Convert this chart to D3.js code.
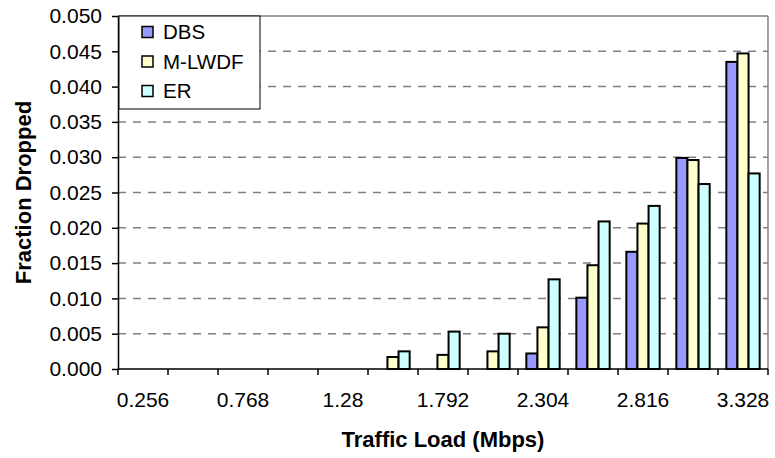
<!DOCTYPE html>
<html>
<head>
<meta charset="utf-8">
<script src="https://cdn.jsdelivr.net/npm/d3@7"></script>
<style>
  body { margin: 0; background: #fff; }
  text { font-family: Arial, "Liberation Sans", sans-serif; }
</style>
</head>
<body>
<div id="chart"></div>
<script>
// traffic load categories (Mbps)
var loads = ["0.256", "0.512", "0.768", "1.024", "1.28", "1.536", "1.792",
             "2.048", "2.304", "2.56", "2.816", "3.072", "3.328"];
var shownLabels = ["0.256", "0.768", "1.28", "1.792", "2.304", "2.816", "3.328"];
var seriesNames = ["DBS", "M-LWDF", "ER"];
var dbs   = [0, 0, 0, 0, 0, 0,      0,     0,      0.0022, 0.0101, 0.0166, 0.0299, 0.0435];
var mlwdf = [0, 0, 0, 0, 0, 0.0017, 0.002, 0.0025, 0.0059, 0.0147, 0.0206, 0.0296, 0.0447];
var er    = [0, 0, 0, 0, 0, 0.0025, 0.0053, 0.005, 0.0127, 0.0209, 0.0231, 0.0262, 0.0277];
var yTicks = [0, 0.005, 0.01, 0.015, 0.02, 0.025, 0.03, 0.035, 0.04, 0.045, 0.05];

var width = 775, height = 458;
var margin = {top: 16, right: 7, bottom: 89, left: 118};
var plotW = width - margin.left - margin.right,
    plotH = height - margin.top - margin.bottom;

var colors = ["#9999ff", "#ffffcc", "#ccffff"];
var allSeries = [dbs, mlwdf, er];

var svg = d3.select("#chart")
    .append("svg")
    .attr("width", width)
    .attr("height", height);

var g = svg.append("g")
    .attr("transform", "translate(" + margin.left + "," + margin.top + ")");

var x = d3.scaleBand()
    .domain(loads)
    .range([0, plotW])
    .paddingInner(0)
    .paddingOuter(0);

// excel style gap: 1.5 bar widths between groups
var x1 = d3.scaleBand()
    .domain(seriesNames)
    .range([0, x.bandwidth()])
    .paddingOuter(0.75)
    .paddingInner(0);

var y = d3.scaleLinear()
    .domain([0, 0.05])
    .range([plotH, 0]);

// gridlines
g.selectAll(".grid")
    .data(yTicks.slice(1, -1))
    .enter().append("line")
    .attr("class", "grid")
    .attr("x1", 0)
    .attr("x2", plotW)
    .attr("y1", function (d) { return y(d); })
    .attr("y2", function (d) { return y(d); })
    .style("stroke", "#808080")
    .style("stroke-width", 1.5)
    .style("stroke-dasharray", "8,7");

// frame top/right
g.append("line").attr("x1", 0).attr("x2", plotW).attr("y1", 0).attr("y2", 0)
    .style("stroke", "#808080").style("stroke-width", 1.5);
g.append("line").attr("x1", plotW).attr("x2", plotW).attr("y1", 0).attr("y2", plotH)
    .style("stroke", "#808080").style("stroke-width", 1.5);

// bars
var rows = loads.map(function (l, i) {
    return seriesNames.map(function (s, j) {
        return {load: l, name: s, value: allSeries[j][i], idx: j};
    });
});

var groups = g.selectAll(".grp")
    .data(rows)
    .enter().append("g")
    .attr("class", "grp")
    .attr("transform", function (d, i) { return "translate(" + x(loads[i]) + ",0)"; });

groups.selectAll("rect")
    .data(function (d) { return d.filter(function (v) { return v.value > 0; }); })
    .enter().append("rect")
    .attr("x", function (d) { return x1(d.name); })
    .attr("width", x1.bandwidth())
    .attr("y", function (d) { return y(d.value); })
    .attr("height", function (d) { return plotH - y(d.value); })
    .style("fill", function (d) { return colors[d.idx]; })
    .style("stroke", "#000")
    .style("stroke-width", 2);

// y axis
var yAxis = g.append("g")
    .call(d3.axisLeft(y).tickValues(yTicks).tickFormat(d3.format(".3f")).tickSize(6).tickSizeOuter(0));
yAxis.select(".domain").style("stroke", "#000").style("stroke-width", 1.5);
yAxis.selectAll(".tick line").style("stroke", "#000").style("stroke-width", 1.5);
yAxis.selectAll(".tick text")
    .attr("x", -16)
    .style("font-size", "21px")
    .style("fill", "#000");

// x axis: ticks at category boundaries
var xAxisG = g.append("g").attr("transform", "translate(0," + plotH + ")");
xAxisG.append("line").attr("x1", 0).attr("x2", plotW)
    .style("stroke", "#000").style("stroke-width", 1.5);
var bounds = loads.map(function (l) { return x(l); }).concat([plotW]);
xAxisG.selectAll(".xt")
    .data(bounds)
    .enter().append("line")
    .attr("x1", function (d) { return d; })
    .attr("x2", function (d) { return d; })
    .attr("y1", 0)
    .attr("y2", 6)
    .style("stroke", "#000")
    .style("stroke-width", 1.5);
xAxisG.selectAll(".xl")
    .data(shownLabels)
    .enter().append("text")
    .attr("x", function (d) { return x(d) + x.bandwidth() / 2; })
    .attr("y", 38)
    .attr("text-anchor", "middle")
    .style("font-size", "21px")
    .text(function (d) { return d; });

// axis titles
svg.append("text")
    .attr("x", margin.left + plotW / 2)
    .attr("y", 447)
    .attr("text-anchor", "middle")
    .style("font-size", "22px")
    .style("font-weight", "bold")
    .text("Traffic Load (Mbps)");

svg.append("text")
    .attr("transform", "translate(31," + (margin.top + plotH / 2) + ") rotate(-90)")
    .attr("text-anchor", "middle")
    .style("font-size", "22px")
    .style("font-weight", "bold")
    .text("Fraction Dropped");

// legend
var legend = g.append("g").attr("transform", "translate(1,0)");
legend.append("rect")
    .attr("width", 141)
    .attr("height", 93)
    .style("fill", "#fff")
    .style("stroke", "#000")
    .style("stroke-width", 1);
var items = legend.selectAll(".legend")
    .data(seriesNames)
    .enter().append("g")
    .attr("class", "legend")
    .attr("transform", function (d, i) { return "translate(23," + (16 + i * 29.5) + ")"; });
items.append("rect")
    .attr("y", -5.5)
    .attr("width", 11)
    .attr("height", 11)
    .style("fill", function (d, i) { return colors[i]; })
    .style("stroke", "#000")
    .style("stroke-width", 1.5);
items.append("text")
    .attr("x", 21)
    .attr("dy", "0.35em")
    .style("font-size", "20.5px")
    .text(function (d) { return d; });
</script>
</body>
</html>
